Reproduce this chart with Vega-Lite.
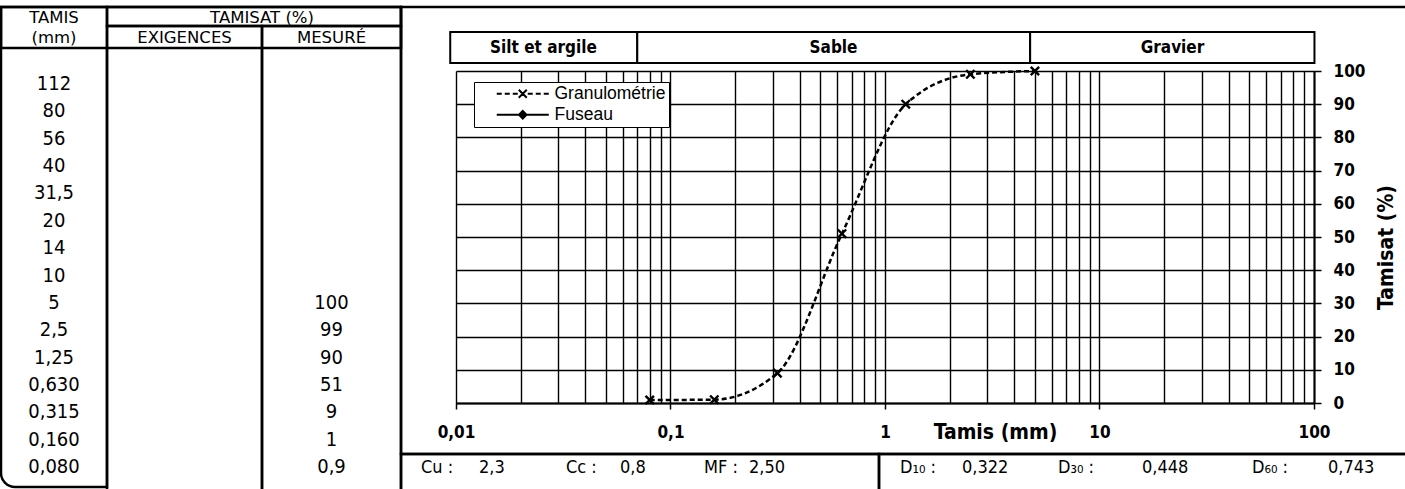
{
  "$schema": "https://vega.github.io/schema/vega-lite/v6.json",
  "width": 858,
  "height": 332,
  "autosize": {"type": "none"},
  "padding": {"left": 456, "top": 71, "right": 91, "bottom": 86},
  "background": "white",
  "config": {
    "view": {"stroke": null},
    "locale": {"number": {"decimal": ",", "thousands": ".", "grouping": [3], "currency": ["", " €"]}}
  },
  "datasets": {
    "tamis": [
      {"tamis": "112", "mm": 112, "passant": null},
      {"tamis": "80", "mm": 80, "passant": null},
      {"tamis": "56", "mm": 56, "passant": null},
      {"tamis": "40", "mm": 40, "passant": null},
      {"tamis": "31,5", "mm": 31.5, "passant": null},
      {"tamis": "20", "mm": 20, "passant": null},
      {"tamis": "14", "mm": 14, "passant": null},
      {"tamis": "10", "mm": 10, "passant": null},
      {"tamis": "5", "mm": 5, "passant": 100},
      {"tamis": "2,5", "mm": 2.5, "passant": 99},
      {"tamis": "1,25", "mm": 1.25, "passant": 90},
      {"tamis": "0,630", "mm": 0.63, "passant": 51},
      {"tamis": "0,315", "mm": 0.315, "passant": 9},
      {"tamis": "0,160", "mm": 0.16, "passant": 1},
      {"tamis": "0,080", "mm": 0.08, "passant": 0.9}
    ],
    "classes": [
      {"classe": "Silt et argile", "de": 0.0094, "a": 0.07, "rang": 0},
      {"classe": "Sable", "de": 0.07, "a": 4.75, "rang": 1},
      {"classe": "Gravier", "de": 4.75, "a": 100.5, "rang": 2}
    ],
    "stats": [
      {"param": "Cu :", "valeur": "2,3", "rang": 0},
      {"param": "Cc :", "valeur": "0,8", "rang": 1},
      {"param": "MF :", "valeur": "2,50", "rang": 2},
      {"param": "D₁₀ :", "valeur": "0,322", "rang": 3},
      {"param": "D₃₀ :", "valeur": "0,448", "rang": 4},
      {"param": "D₆₀ :", "valeur": "0,743", "rang": 5}
    ],
    "cadre": [
      {"zone": "TAMIS", "c0": 0, "c1": 1, "l0": 0, "l1": 4},
      {"zone": "en-tete", "c0": 0, "c1": 3, "l0": 0, "l1": 2},
      {"zone": "TAMISAT", "c0": 1, "c1": 3, "l0": 0, "l1": 1},
      {"zone": "EXIGENCES", "c0": 1, "c1": 2, "l0": 1, "l1": 5},
      {"zone": "MESURE", "c0": 2, "c1": 3, "l0": 1, "l1": 5},
      {"zone": "graphique", "c0": 3, "c1": 5, "l0": 0, "l1": 3},
      {"zone": "granularite", "c0": 3, "c1": 4, "l0": 3, "l1": 5},
      {"zone": "diametres", "c0": 4, "c1": 5, "l0": 3, "l1": 5}
    ],
    "entetes": [
      {"txt": "TAMIS", "c": 0.5, "l": 0.5},
      {"txt": "(mm)", "c": 0.5, "l": 1.5},
      {"txt": "TAMISAT (%)", "c": 2, "l": 0.5},
      {"txt": "EXIGENCES", "c": 1.5, "l": 1.5},
      {"txt": "MESURÉ", "c": 2.5, "l": 1.5}
    ],
    "series": [
      {"serie": "Granulométrie"},
      {"serie": "Fuseau"}
    ]
  },
  "resolve": {"scale": {"x": "independent", "y": "independent", "shape": "independent"}},
  "layer": [
    {
      "data": {"name": "tamis"},
      "transform": [{"filter": "isValid(datum.passant)"}],
      "encoding": {
        "x": {
          "field": "mm", "type": "quantitative",
          "scale": {"type": "log", "domain": [0.01, 100], "nice": false},
          "axis": {
            "values": [0.01,0.02,0.03,0.04,0.05,0.06,0.07,0.08,0.09,0.1,0.2,0.3,0.4,0.5,0.6,0.7,0.8,0.9,1,2,3,4,5,6,7,8,9,10,20,30,40,50,60,70,80,90,100],
            "format": "~g",
            "labelExpr": "abs(log(datum.value)/LN10 - round(log(datum.value)/LN10)) < 0.001 ? datum.label : ''",
            "grid": true, "gridColor": "black", "gridOpacity": 1, "gridWidth": 1.4,
            "domain": true, "domainColor": "black", "domainWidth": 2,
            "ticks": true, "tickColor": "black", "tickWidth": 1.5, "tickSize": 6,
            "tickOpacity": {"condition": {"test": "abs(log(datum.value)/LN10 - round(log(datum.value)/LN10)) < 0.001", "value": 1}, "value": 0},
            "labelFont": "DejaVu Sans Condensed, DejaVu Sans", "labelFontSize": 17, "labelFontWeight": "bold", "labelColor": "black",
            "labelBaseline": "middle", "labelPadding": 23, "labelOverlap": false, "labelFlush": false, "labelBound": false,
            "title": "Tamis (mm)", "titleFont": "DejaVu Sans Condensed, DejaVu Sans", "titleFontSize": 21, "titleFontWeight": "bold", "titleColor": "black",
            "titleX": 539, "titleY": 29, "titleBaseline": "middle", "titleAlign": "center"
          }
        },
        "y": {
          "field": "passant", "type": "quantitative",
          "scale": {"domain": [0, 100], "nice": false},
          "axis": {
            "orient": "right",
            "values": [0,10,20,30,40,50,60,70,80,90,100],
            "grid": true, "gridColor": "black", "gridOpacity": 1, "gridWidth": 1.4,
            "domain": true, "domainColor": "black", "domainWidth": 2,
            "ticks": true, "tickColor": "black", "tickWidth": 1.5, "tickSize": 7,
            "labelFont": "DejaVu Sans Condensed, DejaVu Sans", "labelFontSize": 17, "labelFontWeight": "bold", "labelColor": "black",
            "labelPadding": 12, "labelAlign": "left", "labelBaseline": "middle", "labelFlush": false, "labelOverlap": false,
            "title": "Tamisat (%)", "titleFont": "DejaVu Sans Condensed, DejaVu Sans", "titleFontSize": 21, "titleFontWeight": "bold", "titleColor": "black",
            "titleAngle": 270, "titleX": 72, "titleY": 176, "titleAlign": "center", "titleBaseline": "middle"
          }
        }
      },
      "layer": [
        {
          "mark": {"type": "line", "color": "black", "strokeDash": [5, 3], "strokeWidth": 2.5, "interpolate": "monotone"}
        },
        {
          "mark": {"type": "point", "filled": false, "color": "black", "strokeWidth": 2.4, "size": 70, "opacity": 1, "shape": "M-1,-1L1,1M-1,1L1,-1"}
        },
        {
          "data": {"name": "series"},
          "transform": [{"filter": "false"}],
          "mark": {"type": "point", "filled": false, "color": "black", "strokeWidth": 2, "opacity": 1},
          "encoding": {
            "x": {"datum": 1, "type": "quantitative"},
            "y": {"datum": 50, "type": "quantitative"},
            "shape": {
              "field": "serie", "type": "nominal",
              "scale": {
                "domain": ["Granulométrie", "Fuseau"],
                "range": [
                  "M-5.2,0H-4.2M-3.6,0H-2.6M-2,0H-1M1,0H2M2.6,0H3.6M4.2,0H5.2M-0.8,-0.8L0.8,0.8M-0.8,0.8L0.8,-0.8",
                  "M-5.2,0H5.2M0,-0.75L0.75,0L0,0.75L-0.75,0ZM0,-0.35L0.35,0L0,0.35L-0.35,0Z"
                ]
              },
              "legend": {
                "title": null,
                "orient": "none", "legendX": 18, "legendY": 11,
                "padding": 3,
                "strokeColor": "black", "fillColor": "white",
                "symbolSize": 100, "symbolStrokeWidth": 2, "symbolStrokeColor": "black", "symbolOpacity": 1,
                "symbolOffset": 37, "labelOffset": 23,
                "rowPadding": 2,
                "labelFont": "Liberation Sans", "labelFontSize": 17.5, "labelColor": "black",
                "labelExpr": "datum.label + '\u2003\u2003\u2003'"
              }
            }
          }
        }
      ]
    },
    {
      "data": {"name": "classes"},
      "mark": {"type": "rect", "fill": "white", "stroke": "black", "strokeWidth": 2},
      "encoding": {
        "x": {"field": "de", "type": "quantitative", "scale": {"type": "log", "domain": [0.01, 100], "nice": false}, "axis": null},
        "x2": {"field": "a"},
        "y": {"datum": "classes", "type": "nominal", "scale": {"type": "band", "range": [-39, -8], "paddingInner": 0, "paddingOuter": 0}, "axis": null}
      }
    },
    {
      "data": {"name": "classes"},
      "mark": {"type": "text", "font": "DejaVu Sans Condensed, DejaVu Sans", "fontSize": 17, "fontWeight": "bold", "color": "black", "baseline": "middle", "align": "center"},
      "encoding": {
        "x": {"field": "rang", "type": "quantitative", "scale": {"domain": [0, 1, 2], "range": [87.5, 377.5, 716.5], "nice": false, "zero": false}, "axis": null},
        "y": {"datum": "classes", "type": "nominal", "scale": {"type": "band", "range": [-39, -8], "paddingInner": 0, "paddingOuter": 0}, "axis": null},
        "text": {"field": "classe"}
      }
    },
    {
      "layer": [
        {
          "data": {"name": "cadre"},
          "transform": [{"filter": "datum.zone !== 'TAMIS'"}],
          "mark": {"type": "rect", "filled": false, "stroke": "black", "strokeWidth": 2.5},
          "encoding": {
            "x": {"field": "c0", "type": "quantitative", "scale": {"domain": [0, 1, 2, 3, 4, 5], "range": [-455, -349, -194, -55, 423, 956], "nice": false, "zero": false}, "axis": null},
            "x2": {"field": "c1"},
            "y": {"field": "l0", "type": "quantitative", "scale": {"domain": [0, 1, 2, 3, 4, 5], "range": [-64, -45, -23, 383, 416, 426], "nice": false, "zero": false}, "axis": null},
            "y2": {"field": "l1"}
          }
        },
        {
          "data": {"name": "cadre"},
          "transform": [{"filter": "datum.zone === 'TAMIS'"}],
          "mark": {"type": "rect", "filled": false, "stroke": "black", "strokeWidth": 2.5, "cornerRadiusBottomLeft": 14},
          "encoding": {
            "x": {"field": "c0", "type": "quantitative", "scale": {"domain": [0, 1, 2, 3, 4, 5], "range": [-455, -349, -194, -55, 423, 956], "nice": false, "zero": false}, "axis": null},
            "x2": {"field": "c1"},
            "y": {"field": "l0", "type": "quantitative", "scale": {"domain": [0, 1, 2, 3, 4, 5], "range": [-64, -45, -23, 383, 416, 426], "nice": false, "zero": false}, "axis": null},
            "y2": {"field": "l1"}
          }
        },
        {
          "data": {"name": "entetes"},
          "mark": {"type": "text", "font": "DejaVu Sans", "fontSize": 16.5, "color": "black", "baseline": "middle", "align": "center", "dy": 1},
          "encoding": {
            "x": {"field": "c", "type": "quantitative", "scale": {"domain": [0, 1, 2, 3, 4, 5], "range": [-455, -349, -194, -55, 423, 956], "nice": false, "zero": false}, "axis": null},
            "y": {"field": "l", "type": "quantitative", "scale": {"domain": [0, 1, 2, 3, 4, 5], "range": [-64, -45, -23, 383, 416, 426], "nice": false, "zero": false}, "axis": null},
            "text": {"field": "txt"}
          }
        }
      ]
    },
    {
      "data": {"name": "tamis"},
      "encoding": {
        "y": {"field": "tamis", "type": "ordinal", "sort": null, "scale": {"type": "point", "range": [13, 396], "padding": 0}, "axis": null}
      },
      "layer": [
        {
          "mark": {"type": "text", "font": "DejaVu Sans Condensed, DejaVu Sans", "fontSize": 20, "color": "black", "baseline": "middle", "align": "center"},
          "encoding": {
            "x": {"datum": 0.5, "type": "quantitative", "scale": {"domain": [0, 1, 2, 3, 4, 5], "range": [-455, -349, -194, -55, 423, 956], "nice": false, "zero": false}, "axis": null},
            "text": {"field": "tamis"}
          }
        },
        {
          "mark": {"type": "text", "font": "DejaVu Sans Condensed, DejaVu Sans", "fontSize": 20, "color": "black", "baseline": "middle", "align": "center"},
          "encoding": {
            "x": {"datum": 2.5, "type": "quantitative", "scale": {"domain": [0, 1, 2, 3, 4, 5], "range": [-455, -349, -194, -55, 423, 956], "nice": false, "zero": false}, "axis": null},
            "text": {"condition": {"test": "isValid(datum.passant)", "field": "passant", "type": "quantitative", "format": "~g"}, "value": ""}
          }
        }
      ]
    },
    {
      "data": {"name": "stats"},
      "mark": {"type": "text", "align": "left", "baseline": "middle", "font": "DejaVu Sans Condensed, DejaVu Sans", "fontSize": 18, "color": "black"},
      "encoding": {
        "x": {"field": "rang", "type": "quantitative", "scale": {"domain": [0, 1, 2, 3, 4, 5], "range": [-35, 110, 248, 444, 602, 796], "nice": false, "zero": false}, "axis": null},
        "y": {"datum": "stats", "type": "nominal", "scale": {"type": "band", "range": [383, 411], "paddingInner": 0, "paddingOuter": 0}, "axis": null},
        "text": {"field": "param"}
      }
    },
    {
      "data": {"name": "stats"},
      "mark": {"type": "text", "align": "left", "baseline": "middle", "font": "DejaVu Sans Condensed, DejaVu Sans", "fontSize": 18, "color": "black"},
      "encoding": {
        "x": {"field": "rang", "type": "quantitative", "scale": {"domain": [0, 1, 2, 3, 4, 5], "range": [23, 164, 293, 506, 686, 872], "nice": false, "zero": false}, "axis": null},
        "y": {"datum": "stats", "type": "nominal", "scale": {"type": "band", "range": [383, 411], "paddingInner": 0, "paddingOuter": 0}, "axis": null},
        "text": {"field": "valeur"}
      }
    }
  ]
}
